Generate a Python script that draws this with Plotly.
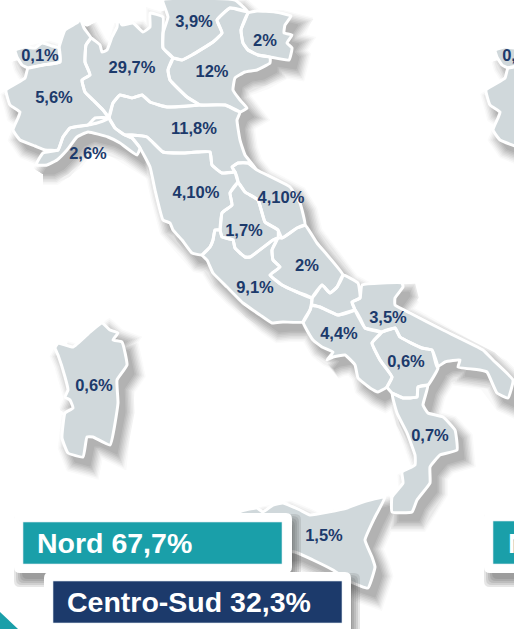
import plotly.graph_objects as go

# --- region outlines (x, y image units) ---
valle_aosta = [(15,50),(25,47),(35,48),(42,43),(52,46),(59,48),(60,62),(43,65),(28,68),(22,65),(17,57)]
piemonte = [(80,18),(84,28),(91,38),(86,45),(85,62),(90,75),(82,80),(85,92),(93,100),(103,110),(109,118),(97,123),(88,125),(70,128),(63,137),(58,150),(45,150),(35,146),(20,140),(13,130),(18,118),(20,112),(10,105),(6,90),(25,78),(28,68),(43,65),(60,62),(59,48),(65,30),(78,22)]
liguria = [(36,165),(43,153),(58,150),(63,137),(70,128),(88,125),(95,118),(109,118),(115,128),(125,135),(132,138),(140,148),(137,155),(120,143),(108,137),(88,132),(77,137),(67,150),(57,160),(47,165)]
lombardia = [(118,17),(122,25),(133,23),(143,32),(150,27),(150,13),(163,17),(163,33),(163,48),(173,58),(168,70),(170,80),(187,97),(200,105),(167,107),(150,102),(142,95),(132,98),(120,95),(113,103),(109,118),(103,110),(93,100),(85,92),(82,80),(90,75),(85,62),(86,45),(91,38),(100,45),(102,52),(107,50),(112,37),(117,27)]
trentino = [(163,0),(168,17),(163,33),(163,48),(173,58),(182,60),(192,55),(213,42),(222,33),(217,20),(230,8),(248,12),(235,0)]
veneto = [(173,58),(182,60),(192,55),(213,42),(222,33),(217,20),(230,8),(248,12),(241,30),(243,43),(248,50),(258,55),(270,57),(270,63),(257,70),(245,72),(235,78),(233,90),(240,100),(247,108),(240,112),(225,105),(200,105),(187,97),(170,80),(168,70)]
friuli = [(248,13),(257,11),(275,12),(291,16),(285,25),(284,33),(292,35),(287,43),(292,48),(289,60),(270,57),(258,55),(248,50),(243,43),(241,30)]
emilia = [(109,118),(113,103),(120,95),(132,98),(142,95),(150,102),(167,107),(200,105),(225,105),(240,112),(237,120),(240,140),(245,155),(257,170),(248,163),(238,163),(232,167),(235,172),(222,173),(212,165),(210,152),(197,152),(182,153),(163,152),(147,137),(132,135),(125,135),(115,128)]
toscana = [(125,135),(132,135),(147,137),(163,152),(182,153),(197,152),(210,152),(212,165),(222,173),(235,172),(238,182),(230,193),(232,205),(222,213),(220,230),(215,230),(213,240),(210,247),(202,255),(192,253),(182,240),(173,230),(170,223),(163,220),(155,190),(150,167),(140,148),(132,138)]
marche = [(235,172),(232,167),(238,163),(248,163),(257,170),(290,187),(300,203),(305,225),(297,228),(282,238),(278,230),(265,222),(258,200),(245,192),(238,182)]
umbria = [(238,182),(245,192),(258,200),(265,222),(278,230),(278,238),(273,240),(250,257),(245,257),(235,248),(233,240),(222,237),(220,230),(222,213),(232,205),(230,193)]
lazio = [(202,255),(210,247),(213,240),(215,230),(220,230),(222,237),(233,240),(235,248),(245,257),(250,257),(273,240),(278,238),(272,250),(273,260),(280,267),(270,275),(282,285),(297,292),(312,298),(310,310),(303,322),(283,322),(272,323),(260,315),(243,303),(227,287),(213,273),(207,260)]
abruzzo = [(305,225),(317,243),(343,275),(337,287),(330,293),(322,285),(312,298),(297,292),(282,285),(270,275),(280,267),(273,260),(272,250),(278,238),(282,238),(297,228)]
molise = [(343,275),(358,283),(360,298),(352,302),(355,310),(338,315),(320,307),(312,305),(312,298),(322,285),(330,293),(337,287)]
campania = [(312,305),(320,307),(338,315),(355,310),(360,318),(365,328),(382,332),(372,343),(380,360),(392,377),(387,387),(378,392),(370,388),(358,378),(355,365),(345,355),(333,357),(327,360),(333,352),(322,347),(313,340),(303,322),(310,310)]
puglia = [(362,285),(402,283),(403,287),(395,298),(395,305),(410,313),(443,330),(483,350),(493,360),(513,380),(508,398),(497,393),(487,372),(480,370),(458,367),(460,360),(445,362),(437,367),(432,350),(422,348),(400,337),(395,328),(382,332),(365,328),(355,310),(352,302),(360,298)]
basilicata = [(382,332),(395,328),(400,337),(422,348),(432,350),(438,368),(428,385),(418,387),(417,397),(403,398),(392,393),(387,387),(392,377),(380,360),(372,343)]
calabria = [(392,393),(403,398),(417,397),(418,387),(428,385),(423,405),(428,413),(443,417),(455,430),(457,450),(440,455),(430,467),(430,483),(417,500),(412,512),(392,512),(392,497),(403,483),(402,472),(415,465),(415,455),(407,433),(397,413)]
sicilia = [(240,512),(257,508),(263,512),(273,505),(283,503),(300,510),(310,515),(347,508),(363,502),(385,497),(375,517),(365,540),(372,557),(375,567),(368,588),(353,583),(333,570),(313,560),(295,552),(250,548)]
sardegna = [(58,343),(55,348),(58,355),(65,377),(68,390),(65,397),(70,400),(73,408),(65,413),(62,438),(68,453),(83,457),(87,437),(93,437),(110,445),(118,403),(117,380),(127,365),(122,342),(113,340),(118,333),(110,330),(102,323),(90,332),(73,347)]

regions = [valle_aosta, piemonte, liguria, lombardia, trentino, veneto, friuli, emilia, toscana,
           marche, umbria, lazio, abruzzo, molise, campania, puglia, basilicata, calabria, sicilia, sardegna]
next_map_shift = 480
next_map_regions = [valle_aosta, piemonte]

labels = ["0,1%","29,7%","3,9%","2%","12%","5,6%","11,8%","2,6%","4,10%","4,10%","1,7%","2%","9,1%","3,5%","4,4%","0,6%","0,6%","0,7%","1,5%","0,1%"]
label_x = [40,132,194,265,212,54,194,88,196,281,244,307,255,388,339,406,94,430,324,521]
label_y = [57,69,23,42,73,99,130,155,194,199,232,267,289,319,335,363,387,437,537,57]

zone_labels = ["Nord 67,7%", "Centro-Sud 32,3%", "Nord 67,7%"]

GREY = "#d0d8db"; NAVY = "#1c3a6b"; TEAL = "#1a9fa9"


def path_xy(polys, dx=0, dy=0):
    xs, ys = [], []
    for p in polys:
        xs += [a + dx for a, _ in p] + [p[0][0] + dx, None]
        ys += [b + dy for _, b in p] + [p[0][1] + dy, None]
    return xs, ys


fig = go.Figure()
all_polys = regions
next_polys = [[(a + next_map_shift, b) for a, b in p] for p in next_map_regions]

# soft shadow: opaque stacked layers, light to dark
shadow_steps = [(22, "#fafafa"), (19, "#f2f2f2"), (16, "#e8e8e8"), (13, "#dddddd"), (10, "#d2d2d2"),
                (7, "#c7c7c7"), (4, "#bcbcbc"), (1, "#b2b2b2")]
for width, colour in shadow_steps:
    x, y = path_xy(all_polys + next_polys, 7, 9)
    fig.add_trace(go.Scatter(x=x, y=y, mode="lines", fill="toself", fillcolor=colour,
                             line=dict(color=colour, width=width), hoverinfo="skip", showlegend=False))

# white halo + regions
x, y = path_xy(all_polys + next_polys)
fig.add_trace(go.Scatter(x=x, y=y, mode="lines", fill="toself", fillcolor=GREY,
                         line=dict(color="white", width=3, shape="spline", smoothing=0.35),
                         hoverinfo="skip", showlegend=False))

# region labels
fig.add_trace(go.Scatter(x=label_x, y=label_y, mode="text", text=["<b>%s</b>" % t for t in labels],
                         textposition="middle center",
                         textfont=dict(family="Liberation Sans", size=16.5, color=NAVY),
                         hoverinfo="skip", showlegend=False))


def rounded(x0, y0, x1, y1, r):
    return (f"M{x0+r},{y0} L{x1-r},{y0} Q{x1},{y0} {x1},{y0+r} L{x1},{y1-r} Q{x1},{y1} {x1-r},{y1} "
            f"L{x0+r},{y1} Q{x0},{y1} {x0},{y1-r} L{x0},{y0+r} Q{x0},{y0} {x0+r},{y0} Z")


shapes = []


def card(x0, y0, x1, y1, inner, col):
    for g in [8, 6, 4, 2, 0]:
        shapes.append(dict(type="path", path=rounded(x0 + 8 - g, y0 + 9 - g, x1 + 1 + g, y1 + 6 + g, 6),
                           fillcolor="rgba(60,60,60,0.13)", line_width=0, layer="above"))
    shapes.append(dict(type="path", path=rounded(x0, y0, x1, y1, 6), fillcolor="white", line_width=0, layer="above"))
    shapes.append(dict(type="rect", x0=inner[0], y0=inner[1], x1=inner[2], y1=inner[3], fillcolor=col,
                       line=dict(color="#dfeaf0", width=0.6), layer="above"))


card(14, 513, 292, 573, (23, 522, 282, 564), TEAL)
card(484, 511, 620, 573, (493, 521, 620, 564), TEAL)
card(44, 572, 351, 660, (53, 581, 342, 623), NAVY)
shapes.append(dict(type="path", path="M0,612 L18,629 L0,629 Z", fillcolor=TEAL, line_width=0, layer="above"))

annotations = []
for txt, ax, ay in zip(zone_labels, [35, 65, 506], [543, 602, 543]):
    annotations.append(dict(x=ax, y=ay, xref="x", yref="y", text="<b>%s</b>" % txt, showarrow=False,
                            xanchor="left", yanchor="middle",
                            font=dict(family="Liberation Sans", size=28.5, color="white")))

fig.update_layout(width=514, height=629, margin=dict(l=0, r=0, t=0, b=0), paper_bgcolor="white", plot_bgcolor="white",
                  xaxis=dict(range=[0, 514], visible=False, fixedrange=True),
                  yaxis=dict(range=[629, 0], visible=False, fixedrange=True),
                  shapes=shapes, annotations=annotations, showlegend=False)

fig.write_html("out.html", config=dict(displayModeBar=False),
               post_script="document.body.style.margin='0';document.body.style.overflow='hidden';")
